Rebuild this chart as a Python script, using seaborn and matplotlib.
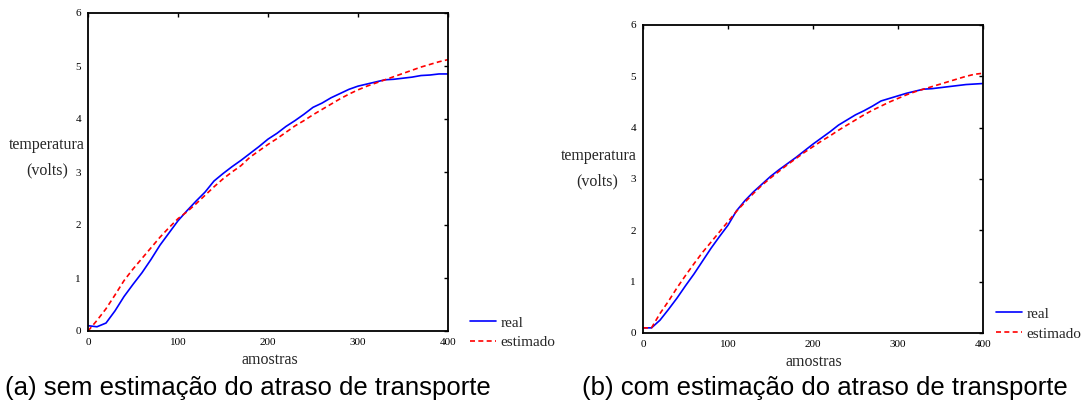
import numpy as np
import pandas as pd
import matplotlib
matplotlib.use("Agg")
import matplotlib.pyplot as plt
from matplotlib.lines import Line2D
import seaborn as sns

# ---- data ----
amostras = [0, 10, 20, 30, 40, 50, 60, 70, 80, 90, 100, 110, 120, 130, 140, 150,
            160, 170, 180, 190, 200, 210, 220, 230, 240, 250, 260, 270, 280, 290,
            300, 310, 320, 330, 340, 350, 360, 370, 380, 390, 400]

real_a = [0.10, 0.08, 0.15, 0.38, 0.65, 0.88, 1.10, 1.35, 1.62, 1.85, 2.08, 2.27,
          2.45, 2.62, 2.83, 2.97, 3.10, 3.22, 3.35, 3.48, 3.62, 3.73, 3.86, 3.97,
          4.09, 4.22, 4.30, 4.40, 4.48, 4.56, 4.62, 4.66, 4.70, 4.74, 4.75, 4.77,
          4.79, 4.82, 4.83, 4.85, 4.85]
est_a = [0.00, 0.20, 0.42, 0.68, 0.95, 1.17, 1.37, 1.57, 1.77, 1.95, 2.12, 2.25,
         2.40, 2.56, 2.72, 2.87, 3.00, 3.12, 3.28, 3.40, 3.52, 3.63, 3.75, 3.87,
         3.97, 4.08, 4.18, 4.28, 4.38, 4.47, 4.55, 4.62, 4.68, 4.74, 4.80, 4.86,
         4.92, 4.98, 5.03, 5.08, 5.12]

real_b = [0.10, 0.10, 0.25, 0.46, 0.68, 0.92, 1.15, 1.40, 1.65, 1.88, 2.10, 2.38,
          2.58, 2.75, 2.90, 3.05, 3.18, 3.30, 3.42, 3.55, 3.68, 3.80, 3.92, 4.05,
          4.15, 4.25, 4.33, 4.42, 4.52, 4.57, 4.62, 4.67, 4.71, 4.75, 4.76, 4.78,
          4.80, 4.82, 4.84, 4.85, 4.86]
est_b = [0.10, 0.10, 0.38, 0.62, 0.88, 1.12, 1.35, 1.57, 1.77, 1.97, 2.17, 2.37,
         2.55, 2.72, 2.88, 3.02, 3.15, 3.28, 3.40, 3.52, 3.63, 3.74, 3.84, 3.95,
         4.05, 4.15, 4.25, 4.34, 4.42, 4.50, 4.57, 4.64, 4.70, 4.75, 4.80, 4.85,
         4.90, 4.95, 5.00, 5.04, 5.06]

series_labels = ["real", "estimado"]
xticks = [0, 100, 200, 300, 400]
yticks = [0, 1, 2, 3, 4, 5, 6]
captions = ["(a) sem estimação do atraso de transporte",
            "(b) com estimação do atraso de transporte"]

sns.set_style("white")
plt.rcParams["font.family"] = ["Liberation Serif", "DejaVu Serif"]

W, H = 1083, 408
fig = plt.figure(figsize=(W / 100, H / 100), dpi=100)

def px_axes(x0, y0, x1, y1):
    return fig.add_axes([x0 / W, 1 - y1 / H, (x1 - x0) / W, (y1 - y0) / H])

ax_a = px_axes(88, 13, 448, 331)
ax_b = px_axes(643, 25, 983, 333)

panels = [
    (ax_a, real_a, est_a, (47, 145), (47, 170), (270, 360), (470, 316)),
    (ax_b, real_b, est_b, (599, 156), (597, 181), (814, 362), (996, 307)),
]

for ax, real, est, lab1, lab2, xl, leg in panels:
    df = pd.DataFrame({"amostras": amostras + amostras,
                       "valor": real + est,
                       "serie": [series_labels[0]] * len(real) + [series_labels[1]] * len(est)})
    sns.lineplot(data=df, x="amostras", y="valor", hue="serie", style="serie",
                 palette={"real": "#0000ff", "estimado": "#ff0000"},
                 dashes={"real": "", "estimado": (3, 2)},
                 linewidth=1.2, ax=ax, legend=False)
    ax.set_xlim(0, 400)
    ax.set_ylim(0, 6)
    ax.set_xticks(xticks)
    ax.set_yticks(yticks)
    ax.set_xlabel("")
    ax.set_ylabel("")
    ax.tick_params(direction="in", length=3, width=1, labelsize=8,
                   top=True, right=True, pad=5, colors="black")
    for s in ax.spines.values():
        s.set_visible(True)
        s.set_color("black")
        s.set_linewidth(1.3)
    fig.text(lab1[0] / W, 1 - lab1[1] / H, "temperatura", ha="center", va="center", fontsize=11.5)
    fig.text(lab2[0] / W, 1 - lab2[1] / H, "(volts)", ha="center", va="center", fontsize=11.5)
    fig.text(xl[0] / W, 1 - xl[1] / H, "amostras", ha="center", va="center", fontsize=11.5)
    handles = [Line2D([], [], color="#0000ff", lw=1.2),
               Line2D([], [], color="#ff0000", lw=1.2, ls=(0, (3, 2)))]
    fig.legend(handles, series_labels, loc="upper left",
               bbox_to_anchor=(leg[0] / W, 1 - leg[1] / H),
               frameon=False, fontsize=11, handlelength=1.7, handletextpad=0.3,
               labelspacing=0.4, borderpad=0, borderaxespad=0)

fig.text(5 / W, 1 - 388 / H, captions[0], ha="left", va="center", color="black",
         fontsize=18.5, family=["Liberation Sans", "DejaVu Sans"])
fig.text(582 / W, 1 - 388 / H, captions[1], ha="left", va="center", color="black",
         fontsize=18.5, family=["Liberation Sans", "DejaVu Sans"])

fig.savefig("out.png", dpi=100)
